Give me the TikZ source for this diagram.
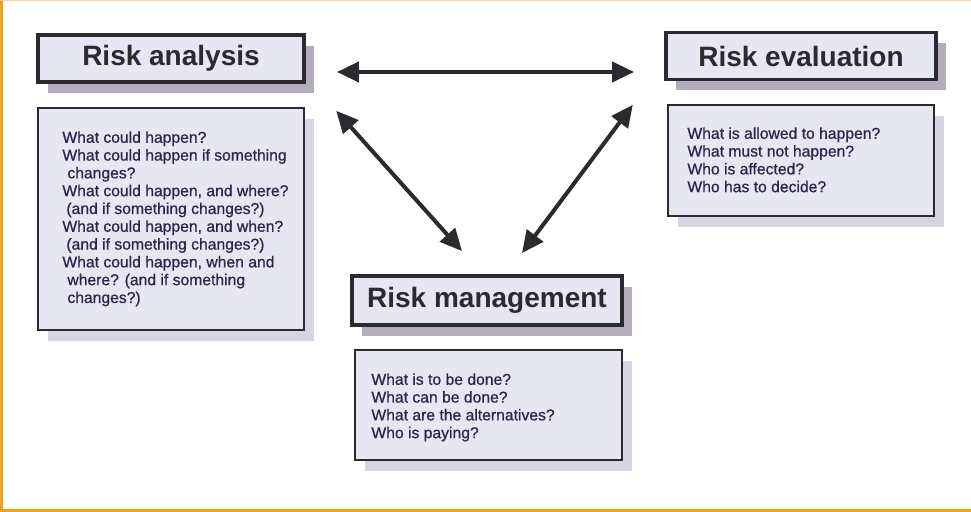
\documentclass[tikz,border=0pt]{standalone}
\usepackage{fontspec}
\setmainfont{Liberation Sans}
\newfontfamily\askfont[FakeBold=0.7]{Liberation Sans}
\usetikzlibrary{arrows.meta,shadows}
\definecolor{boxfill}{HTML}{E7E6F3}
\definecolor{headshade}{HTML}{B4ADBC}
\definecolor{boxshade}{HTML}{D7D5E2}
\definecolor{inkline}{HTML}{2B2A2E}
\definecolor{asktext}{HTML}{2C2548}
\definecolor{frameorange}{HTML}{F7A11A}

\begin{document}
\begin{tikzpicture}[x=0.5pt,y=-0.5pt,
  head/.style={draw=inkline,line width=1.9pt,fill=boxfill,minimum height=23.5pt,inner sep=0pt,
    font=\fontsize{14}{16}\selectfont\bfseries,text=inkline,
    drop shadow={shadow xshift=5pt,shadow yshift=-5.5pt,fill=headshade,opacity=1}},
  qbox/.style={draw=inkline,line width=1.2pt,fill=boxfill,inner sep=0pt,
    drop shadow={shadow xshift=5pt,shadow yshift=-5.5pt,fill=boxshade,opacity=1}},
  qtext/.style={anchor=north west,align=left,inner sep=0pt,text=asktext,font=\askfont\fontsize{7.85}{8.9}\selectfont},
  link/.style={{Triangle[length=11pt,width=10pt]}-{Triangle[length=11pt,width=10pt]},line width=2pt,draw=inkline}
]
  \useasboundingbox (0,0) rectangle (971,512);
  \draw[frameorange,line width=1.5pt] (1.5,0) -- (1.5,512);
  \draw[frameorange!45,line width=0.6pt] (0,0.6) -- (971,0.6);
  \draw[frameorange,line width=1.2pt] (0,510.5) -- (971,510.5);

  \node[head,minimum width=133pt] (anahead) at (171,58.5) {Risk analysis};
  \node[qbox,minimum width=133pt,minimum height=111pt] (anabox) at (171,219) {};
  \node[qtext] (anaq) at (62,131) {What could happen?\\What could happen if something\\\hspace*{2.5pt}changes?\\What could happen, and where?\\\hspace*{2pt}(and if something changes?)\\What could happen, and when?\\\hspace*{2pt}(and if something changes?)\\What could happen, when and\\\hspace*{2.5pt}where? (and if something\\\hspace*{2.5pt}changes?)};

  \node[head,minimum width=135pt] (evahead) at (801,56) {Risk evaluation};
  \node[qbox,minimum width=133pt,minimum height=55.5pt] (evabox) at (801,160.5) {};
  \node[qtext] (evaq) at (687,127) {What is allowed to happen?\\What must not happen?\\Who is affected?\\Who has to decide?};

  \node[head,minimum width=135pt,minimum height=24.5pt] (mgthead) at (487,300.5) {Risk management};
  \node[qbox,minimum width=133.5pt,minimum height=55pt] (mgtbox) at (488.5,405) {};
  \node[qtext] (mgtq) at (371,373) {What is to be done?\\What can be done?\\What are the alternatives?\\Who is paying?};

  \draw[link] ([shift={(31,13.5)}]anahead.east) -- ([shift={(-30,16)}]evahead.west);
  \draw[link] ([shift={(31,4)}]anabox.north east) -- ([shift={(-25,-23)}]mgthead.north);
  \draw[link] ([shift={(-34,1)}]evabox.north west) -- ([shift={(35,-21)}]mgthead.north);
\end{tikzpicture}
\end{document}
